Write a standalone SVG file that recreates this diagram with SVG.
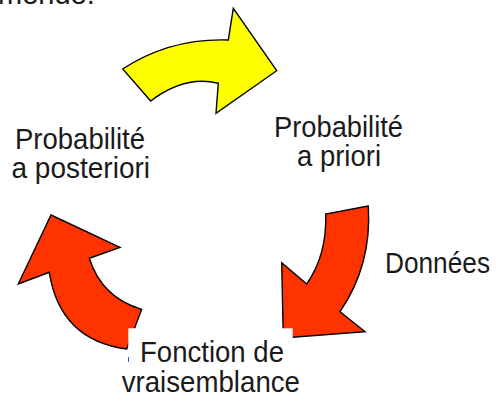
<svg xmlns="http://www.w3.org/2000/svg" width="496" height="407" viewBox="0 0 496 407">
<style>
.lbl{font-family:"Liberation Sans",Arial,Helvetica,sans-serif;font-size:29px;fill:#1a1a1a;}
.arr{stroke:#000;stroke-width:1.4;stroke-linejoin:miter;}
.red{fill:#ff3300;}
.yel{fill:#ffff00;}
</style>
<rect width="496" height="407" fill="#fff"/>
<text class="lbl" x="-2" y="3.5" font-size="28">mende.</text>
<g id="connectors">
<path id="arrow-yellow" class="arr yel" d="M122.7,69 Q170,38 228.3,40 L233.3,8.3 L276.7,70.7 L216,113.3 L218.3,83.3 Q185,75 150.7,101 Z"/>
<path id="arrow-right" class="arr red" d="M368.3,206 L325.7,214 Q327,255 306.7,284 L281.7,262.7 L283.3,338 L365,331.7 L340,311.7 Q372,265 368.3,206 Z"/>
<path id="arrow-left" class="arr red" d="M51,215 L120,247.3 L89.3,258.3 Q102,298 141.7,309.3 L126.7,349 Q60,340 49.3,272.3 L18.3,284 Z"/>
</g>
<rect x="128.3" y="328.3" width="164.4" height="79" fill="#fff"/>
<rect x="128" y="357" width="1" height="5" fill="#3355ff"/>
<g id="node-posteriori">
<text class="lbl" x="15" y="148.5" textLength="130" lengthAdjust="spacingAndGlyphs">Probabilité</text>
<text class="lbl" x="11.5" y="178" textLength="138.5" lengthAdjust="spacingAndGlyphs">a posteriori</text>
</g>
<g id="node-priori">
<text class="lbl" x="274" y="136.7" textLength="129" lengthAdjust="spacingAndGlyphs">Probabilité</text>
<text class="lbl" x="297" y="166" textLength="84" lengthAdjust="spacingAndGlyphs">a priori</text>
</g>
<g id="node-donnees">
<text class="lbl" x="385" y="273.3" textLength="105" lengthAdjust="spacingAndGlyphs">Données</text>
</g>
<g id="node-vraisemblance">
<text class="lbl" x="140" y="361.7" textLength="144" lengthAdjust="spacingAndGlyphs">Fonction de</text>
<text class="lbl" x="121.7" y="391.7" textLength="178.3" lengthAdjust="spacingAndGlyphs">vraisemblance</text>
</g>
</svg>
